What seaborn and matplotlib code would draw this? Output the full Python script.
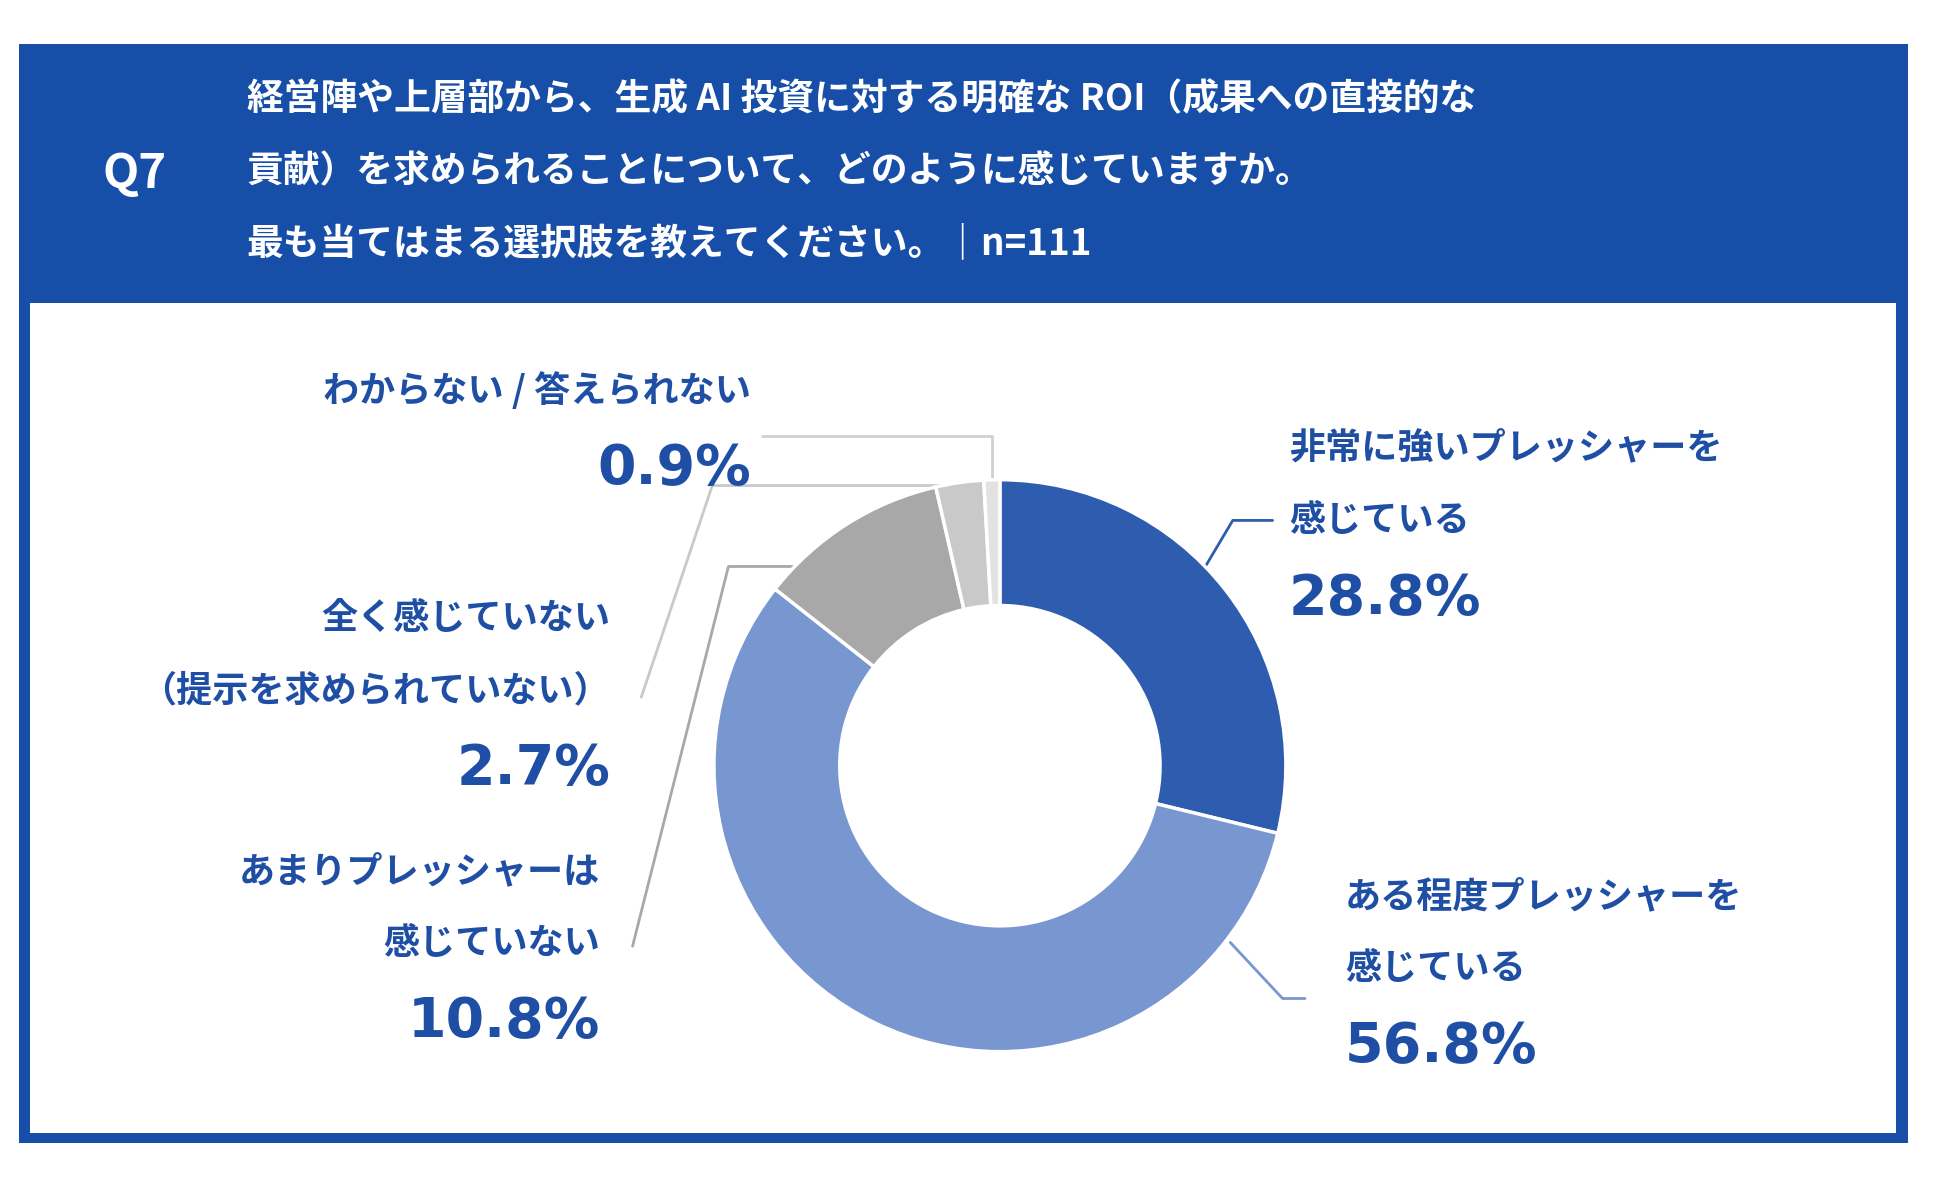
import matplotlib
matplotlib.use("Agg")
import matplotlib.pyplot as plt
import seaborn as sns
from matplotlib.patches import Rectangle

sns.set_style("white")
plt.rcParams['font.family'] = ['Noto Sans CJK JP', 'DejaVu Sans']

categories = ["非常に強いプレッシャーを\n感じている", "ある程度プレッシャーを\n感じている",
              "あまりプレッシャーは\n感じていない", "全く感じていない\n（提示を求められていない）",
              "わからない / 答えられない"]
values = [28.8, 56.8, 10.8, 2.7, 0.9]
colors = ["#2e5caf", "#7896d0", "#a8a8a8", "#c9c9c9", "#e2e2e2"]
line_colors = ["#2e5caf", "#7896d0", "#a8a8a8", "#c9c9c9", "#d0d0d0"]

BLUE = "#164ea8"
TXT = "#1f4fa5"
W, H = 1566, 951

fig = plt.figure(figsize=(19.5, 11.84), dpi=100)
bg = fig.add_axes([0, 0, 1, 1])
bg.set_xlim(0, W)
bg.set_ylim(H, 0)
bg.axis("off")

# frame and header
bg.add_patch(Rectangle((15, 35), 1517, 883, facecolor=BLUE, edgecolor="none"))
bg.add_patch(Rectangle((24, 243), 1499, 667, facecolor="white", edgecolor="none"))
bg.text(108, 140, "Q7", color="white", fontsize=34, fontweight="bold", ha="center", va="center")
header = ["経営陣や上層部から、生成 AI 投資に対する明確な ROI（成果への直接的な",
          "貢献）を求められることについて、どのように感じていますか。",
          "最も当てはまる選択肢を教えてください。｜n=111"]
for i, line in enumerate(header):
    bg.text(198, 80 + i * 58, line, color="white", fontsize=26.5, fontweight="bold", va="center")

# donut
cx, cy, r = 803, 615, 232
ax = fig.add_axes([(cx - r) / W, 1 - (cy + r) / H, 2 * r / W, 2 * r / H])
ax.pie(values, colors=colors, startangle=90, counterclock=False,
       wedgeprops=dict(width=0.44, edgecolor="white", linewidth=2.5))
ax.set_xlim(-1.01, 1.01)
ax.set_ylim(-1.01, 1.01)
ax.set_aspect("equal")
ax.axis("off")

# labels: (x, y of first line, ha, leader points)
specs = [
    (1035, 360, "left", [(968, 455), (990, 418), (1022, 418)]),
    (1080, 720, "left", [(988, 757), (1030, 802), (1048, 802)]),
    (482, 700, "right", [(640, 455), (585, 455), (508, 760)]),
    (490, 497, "right", [(770, 390), (572, 390), (515, 560)]),
    (603, 314, "right", [(797, 385), (797, 350), (612, 350)]),
]
for cat, val, (x, y, ha, pts), lc in zip(categories, values, specs, line_colors):
    lines = cat.split("\n")
    for j, t in enumerate(lines):
        bg.text(x, y + j * 58, t, color=TXT, fontsize=26, fontweight="bold", ha=ha, va="center")
    py = y + len(lines) * 58 + 5
    bg.text(x, py, f"{val}%", color=TXT, fontsize=40, fontweight="bold", ha=ha, va="center",
            family=["DejaVu Sans"])
    xs, ys = zip(*pts)
    bg.plot(xs, ys, color=lc, linewidth=2)

fig.savefig("out.png", dpi=100)
